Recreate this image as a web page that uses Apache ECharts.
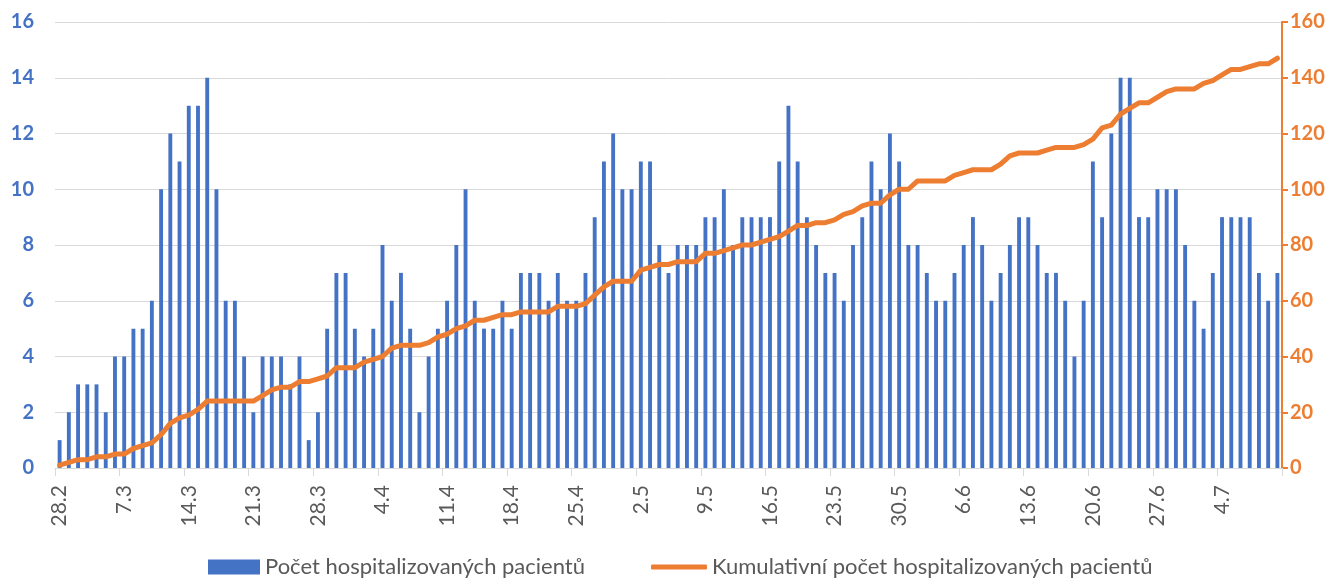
<!DOCTYPE html>
<html>
<head>
<meta charset="utf-8">
<script src="https://cdn.jsdelivr.net/npm/echarts@6/dist/echarts.min.js"></script>
<style>
html,body{margin:0;padding:0;background:#fff;}
#chart{width:1341px;height:578px;}
</style>
</head>
<body>
<div id="chart"></div>
<script>
const dates = ['28.2',
'1.3','2.3','3.3','4.3','5.3','6.3','7.3','8.3','9.3','10.3','11.3','12.3','13.3','14.3','15.3','16.3','17.3','18.3','19.3','20.3','21.3','22.3','23.3','24.3','25.3','26.3','27.3','28.3','29.3','30.3','31.3',
'1.4','2.4','3.4','4.4','5.4','6.4','7.4','8.4','9.4','10.4','11.4','12.4','13.4','14.4','15.4','16.4','17.4','18.4','19.4','20.4','21.4','22.4','23.4','24.4','25.4','26.4','27.4','28.4','29.4','30.4',
'1.5','2.5','3.5','4.5','5.5','6.5','7.5','8.5','9.5','10.5','11.5','12.5','13.5','14.5','15.5','16.5','17.5','18.5','19.5','20.5','21.5','22.5','23.5','24.5','25.5','26.5','27.5','28.5','29.5','30.5','31.5',
'1.6','2.6','3.6','4.6','5.6','6.6','7.6','8.6','9.6','10.6','11.6','12.6','13.6','14.6','15.6','16.6','17.6','18.6','19.6','20.6','21.6','22.6','23.6','24.6','25.6','26.6','27.6','28.6','29.6','30.6',
'1.7','2.7','3.7','4.7','5.7','6.7','7.7','8.7','9.7','10.7'];

const hospitalized = [
1,2,3,3,3,2,4,4,5,5,6,10,12,11,13,13,14,10,6,6,4,2,
4,4,4,3,4,1,2,5,7,7,5,4,5,8,6,7,5,2,4,5,6,8,10,
6,5,5,6,5,7,7,7,6,7,6,6,7,9,11,12,10,10,11,11,8,7,8,
8,8,9,9,10,8,9,9,9,9,11,13,11,9,8,7,7,6,8,9,11,10,12,
11,8,8,7,6,6,7,8,9,8,6,7,8,9,9,8,7,7,6,4,6,11,9,
12,14,14,9,9,10,10,10,8,6,5,7,9,9,9,9,7,6,7];

const cumulative = [
1,2,3,3,4,4,5,5,7,8,9,12,16,18,19,21,24,24,24,24,24,24,
26,28,29,29,31,31,32,33,36,36,36,38,39,40,43,44,44,44,45,47,48,50,51,
53,53,54,55,55,56,56,56,56,58,58,58,59,62,65,67,67,67,71,72,73,73,74,
74,74,77,77,78,79,80,80,81,82,83,85,87,87,88,88,89,91,92,94,95,95,98,
100,100,103,103,103,103,105,106,107,107,107,109,112,113,113,113,114,115,115,115,116,118,122,
123,127,129,131,131,133,135,136,136,136,138,139,141,143,143,144,145,145,147];

const seriesNames = ['Počet hospitalizovaných pacientů', 'Kumulativní počet hospitalizovaných pacientů'];
const leftTicks = {min: 0, max: 16, interval: 2};
const rightTicks = {min: 0, max: 160, interval: 20};

const FONT = 'Lato, "Open Sans", sans-serif';
const chart = echarts.init(document.getElementById('chart'), null, {renderer: 'canvas'});
chart.setOption({
  animation: false,
  textStyle: {fontFamily: FONT},
  grid: {left: 55, right: 59, top: 22, bottom: 110, containLabel: false},
  legend: [
    {left: 208, top: 556, padding: 0, itemWidth: 52, itemHeight: 15,
     data: [{name: seriesNames[0], icon: 'rect'}],
     textStyle: {fontFamily: FONT, fontSize: 22, color: '#595959'}},
    {left: 651, top: 556, padding: 0, itemWidth: 56, itemHeight: 5,
     data: [{name: seriesNames[1], icon: 'roundRect'}],
     itemStyle: {color: '#ED7D31', borderWidth: 0},
     lineStyle: {width: 0},
     textStyle: {fontFamily: FONT, fontSize: 22, color: '#595959'}}
  ],
  xAxis: {
    type: 'category',
    data: dates,
    boundaryGap: true,
    axisLine: {show: true, lineStyle: {color: '#d9d9d9', width: 1}},
    axisTick: {show: true, interval: 6, length: 8, lineStyle: {color: '#d9d9d9'}},
    axisLabel: {interval: 6, rotate: 90, margin: 17, fontSize: 21, color: '#595959', fontFamily: FONT}
  },
  yAxis: [
    {type: 'value', min: leftTicks.min, max: leftTicks.max, interval: leftTicks.interval,
     axisLine: {show: false}, axisTick: {show: false},
     axisLabel: {margin: 21, fontSize: 20, fontWeight: 'bold', color: '#4472C4', fontFamily: FONT},
     splitLine: {show: true, lineStyle: {color: '#d9d9d9', width: 1}}},
    {type: 'value', position: 'right', min: rightTicks.min, max: rightTicks.max, interval: rightTicks.interval,
     axisLine: {show: true, lineStyle: {color: '#ED7D31', width: 2}},
     axisTick: {show: true, inside: false, length: 6, lineStyle: {color: '#ED7D31', width: 2}},
     axisLabel: {margin: 8, fontSize: 20, fontWeight: 'bold', color: '#ED7D31', fontFamily: FONT},
     splitLine: {show: false}}
  ],
  series: [
    {name: seriesNames[0], type: 'bar', data: hospitalized, yAxisIndex: 0,
     barWidth: '42%', itemStyle: {color: '#4472C4'}},
    {name: seriesNames[1], type: 'line', data: cumulative, yAxisIndex: 1,
     symbol: 'none', smooth: false, z: 5,
     lineStyle: {color: '#ED7D31', width: 5, join: 'round', cap: 'round'},
     itemStyle: {color: '#ED7D31'}}
  ]
});
</script>
</body>
</html>
